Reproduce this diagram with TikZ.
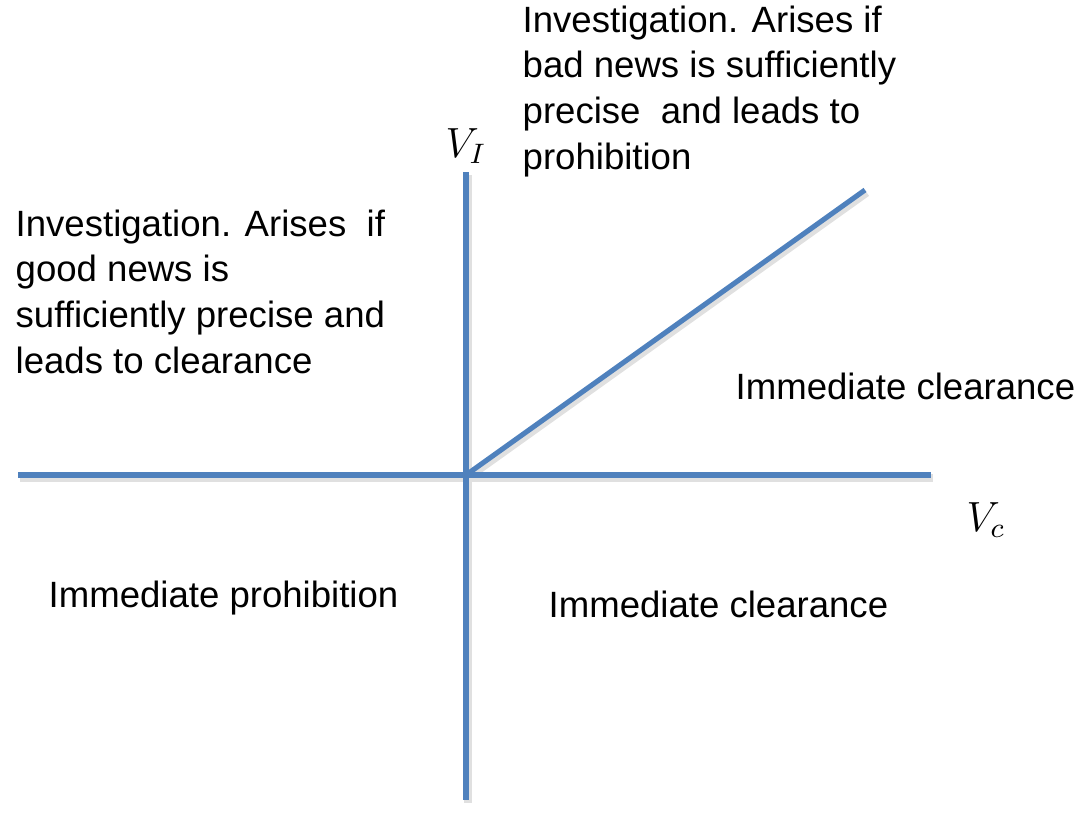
\documentclass[tikz,border=0pt]{standalone}
\usepackage{fontspec}
\setmainfont{Liberation Sans}
\usetikzlibrary{positioning}
\definecolor{axisblue}{HTML}{4F81BD}
\tikzset{
  axisline/.style={line width=1.45pt, axisblue},
  regiontext/.style={inner sep=0pt, align=left, font=\fontsize{10.4}{13}\selectfont},
}

\begin{document}
\begin{tikzpicture}[x=0.01cm, y=-0.01cm]
  \useasboundingbox (0,0) rectangle (1087,830);
  % axes end points
  \coordinate (O) at (466,475);
  \coordinate (xl) at (18,475);
  \coordinate (xr) at (931,475);
  \coordinate (yt) at (466,172);
  \coordinate (yb) at (466,800);
  \coordinate (d) at (865,190);
  % shadow, then axes
  \draw[axisline, black!12, line width=2pt] ([shift={(2,3)}]xl) -- ([shift={(2,3)}]xr);
  \draw[axisline, black!12, line width=2pt] ([shift={(2,3)}]yt) -- ([shift={(2,3)}]yb);
  \draw[axisline, black!12, line width=2pt] ([shift={(2,3)}]O) -- ([shift={(2,3)}]d);
  \draw[axisline] (xl) -- (xr);
  \draw[axisline] (yt) -- (yb);
  \draw[axisline] (O) -- (d);
  \node (vi) at (466,146) {\large$V_I$};
  \node (vc) at (986,520) {\large$V_c$};
  % regions
  \node[regiontext, anchor=north west] (topinv) at (522,5)
    {Investigation. Arises if\\bad news is sufficiently\\precise\ \ and leads to\\prohibition};
  \node[regiontext, anchor=north west] (leftinv) at (15,209)
    {Investigation. Arises\ \ if\\good news is\\sufficiently precise and\\leads to clearance};
  \node[regiontext, anchor=west] (clearup) at (735,386) {Immediate clearance};
  \node[regiontext, anchor=west] (prohib) at (48,598) {Immediate prohibition};
  \node[regiontext, anchor=west] (cleardown) at (548,604) {Immediate clearance};
\end{tikzpicture}
\end{document}
